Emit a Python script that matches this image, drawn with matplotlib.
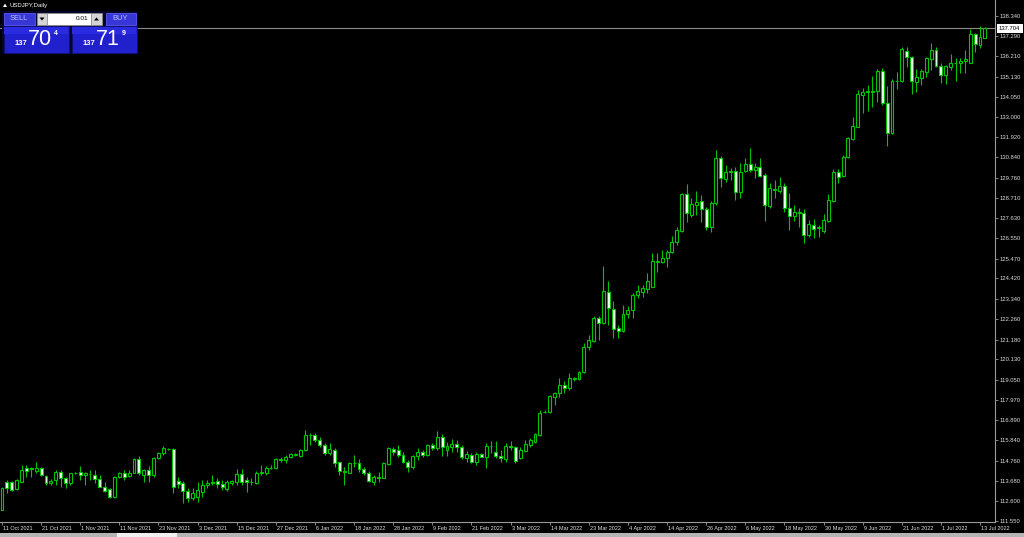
import matplotlib
matplotlib.use("Agg")
import matplotlib.pyplot as plt
from matplotlib.patches import Rectangle, Polygon
import matplotlib.transforms as mtransforms

# ---------------- data (USDJPY, Daily) ----------------
opens = [112.13, 113.60, 113.60, 113.23, 113.64, 114.34, 114.34, 114.22, 114.34, 113.94,
         113.55, 113.72, 114.17, 113.81, 113.55, 114.11, 114.17, 113.99, 114.03, 113.99,
         113.78, 113.37, 113.23, 112.84, 113.90, 114.08, 113.94, 114.11, 114.82, 113.99,
         114.26, 113.99, 114.87, 115.14, 115.39, 115.35, 113.69, 113.55, 113.14, 112.75,
         112.84, 113.11, 113.46, 113.64, 113.69, 113.51, 113.23, 113.55, 113.64, 114.04,
         113.72, 113.64, 113.55, 114.11, 114.08, 114.38, 114.34, 114.82, 114.79, 114.96,
         115.05, 115.00, 115.32, 116.11, 116.11, 115.85, 115.58, 115.14, 115.32, 114.66,
         114.17, 114.11, 114.65, 114.61, 114.31, 114.11, 113.64, 113.87, 113.85, 114.57,
         115.35, 115.32, 115.05, 114.70, 114.40, 115.00, 115.23, 115.05, 115.58, 115.41,
         116.02, 115.32, 115.49, 115.63, 115.49, 114.88, 115.05, 114.70, 115.10, 114.93,
         115.53, 115.23, 115.00, 114.82, 115.53, 115.46, 114.88, 115.28, 115.58, 115.76,
         116.11, 117.33, 117.31, 118.15, 118.32, 118.76, 118.59, 119.07, 119.07, 119.47,
         120.80, 121.12, 122.34, 122.04, 123.72, 122.80, 121.77, 121.63, 122.53, 122.74,
         123.54, 123.72, 123.86, 123.98, 125.31, 125.31, 125.48, 125.80, 126.37, 126.95,
         128.90, 127.78, 128.31, 128.54, 128.10, 127.16, 128.40, 130.79, 129.68, 130.08,
         130.12, 129.02, 130.14, 130.49, 130.17, 130.35, 129.91, 128.28, 129.11, 129.07,
         129.32, 128.17, 127.73, 127.92, 127.87, 126.72, 127.25, 127.13, 126.95, 127.48,
         128.54, 130.08, 129.85, 130.88, 131.82, 132.47, 134.15, 134.31, 134.33, 134.38,
         135.44, 133.74, 132.12, 134.89, 134.89, 136.48, 136.18, 134.86, 135.03, 135.39,
         136.04, 136.54, 135.69, 135.21, 135.62, 135.83, 135.83, 135.95, 135.86, 137.37,
         136.80, 137.19]
highs = [113.34, 113.72, 113.69, 113.76, 114.52, 114.52, 114.40, 114.70, 114.40, 113.99,
         113.76, 114.26, 114.26, 113.90, 114.11, 114.13, 114.47, 114.17, 114.26, 114.26,
         113.99, 113.64, 113.28, 113.94, 114.17, 114.26, 114.26, 114.87, 115.00, 114.29,
         114.47, 114.96, 115.23, 115.53, 115.40, 115.40, 113.90, 113.69, 113.28, 113.28,
         113.64, 113.72, 113.72, 113.99, 113.81, 113.72, 113.72, 113.72, 114.29, 114.29,
         113.90, 113.81, 114.22, 114.52, 114.47, 114.52, 114.87, 114.96, 115.05, 115.17,
         115.14, 115.35, 116.38, 116.20, 116.20, 116.02, 115.67, 115.67, 115.40, 114.70,
         114.43, 114.70, 115.05, 114.82, 114.43, 114.20, 113.99, 114.17, 114.70, 115.49,
         115.49, 115.58, 115.23, 114.79, 115.05, 115.41, 115.32, 115.63, 115.67, 116.34,
         116.15, 115.76, 115.88, 115.85, 115.58, 115.26, 115.14, 115.23, 115.17, 115.71,
         115.81, 115.81, 115.32, 115.67, 115.81, 115.53, 115.49, 115.85, 115.94, 116.24,
         117.44, 117.44, 118.23, 118.41, 119.12, 118.99, 119.42, 119.20, 119.52, 121.01,
         121.42, 122.43, 122.43, 125.08, 124.28, 123.22, 121.95, 123.01, 122.96, 123.66,
         124.07, 124.07, 124.69, 125.75, 125.75, 125.93, 125.93, 126.67, 127.13, 128.97,
         129.43, 128.67, 129.07, 128.84, 128.23, 128.54, 131.23, 130.91, 130.44, 130.26,
         130.35, 130.52, 130.79, 131.32, 130.52, 130.79, 129.99, 129.46, 129.64, 129.78,
         129.50, 128.93, 128.31, 128.14, 128.08, 127.52, 127.55, 127.25, 127.84, 128.90,
         130.21, 130.21, 130.97, 131.94, 132.97, 134.41, 134.50, 134.68, 135.16, 135.51,
         135.56, 134.64, 134.98, 135.39, 136.68, 136.68, 136.22, 135.51, 135.51, 136.18,
         136.93, 136.68, 135.83, 135.74, 136.32, 136.09, 136.09, 136.54, 137.63, 137.46,
         137.81, 137.74]
lows = [112.13, 113.02, 113.16, 113.19, 113.60, 113.90, 113.90, 114.08, 113.94, 113.46,
        113.46, 113.46, 113.37, 113.28, 113.46, 114.04, 113.72, 113.46, 113.72, 113.55,
        113.34, 113.11, 112.75, 112.79, 113.81, 113.72, 113.87, 114.08, 113.99, 113.64,
        113.64, 113.90, 114.82, 115.05, 115.32, 113.02, 113.28, 112.52, 112.58, 112.66,
        112.58, 112.84, 113.28, 113.46, 113.28, 113.19, 113.16, 113.46, 113.46, 113.46,
        113.11, 113.46, 113.51, 113.99, 113.99, 114.29, 114.29, 114.70, 114.64, 114.87,
        115.00, 114.96, 115.28, 115.58, 115.76, 115.49, 115.05, 115.05, 114.40, 113.99,
        113.46, 114.08, 114.43, 114.17, 113.99, 113.64, 113.46, 113.64, 113.81, 114.52,
        115.05, 114.96, 114.61, 114.17, 114.31, 114.79, 114.96, 115.00, 115.32, 115.32,
        115.00, 115.00, 115.23, 115.23, 114.82, 114.70, 114.65, 114.52, 114.93, 114.35,
        115.14, 114.88, 114.70, 114.70, 115.32, 114.61, 114.82, 115.23, 115.49, 115.71,
        116.06, 117.30, 117.26, 117.70, 118.15, 118.32, 118.50, 118.99, 119.03, 119.42,
        120.62, 121.06, 121.15, 122.00, 121.95, 121.28, 121.28, 121.59, 122.30, 122.34,
        123.36, 123.45, 123.63, 123.95, 124.78, 125.25, 125.04, 125.75, 126.19, 126.90,
        127.43, 127.70, 127.78, 127.43, 126.99, 126.90, 128.31, 129.29, 129.55, 129.64,
        128.58, 128.67, 130.08, 130.08, 129.73, 129.82, 127.46, 128.14, 128.67, 128.93,
        127.96, 126.99, 127.48, 127.13, 126.31, 126.63, 126.55, 126.60, 126.81, 127.43,
        128.49, 129.46, 129.78, 130.79, 131.76, 132.43, 133.18, 133.32, 133.53, 133.80,
        133.62, 131.44, 132.08, 134.45, 134.86, 135.62, 134.20, 134.33, 134.68, 135.12,
        135.48, 135.65, 134.77, 134.73, 135.48, 134.91, 135.30, 135.30, 135.83, 136.41,
        136.66, 137.16]
closes = [113.28, 113.28, 113.19, 113.72, 114.26, 114.22, 114.31, 114.38, 113.99, 113.55,
          113.69, 114.17, 113.81, 113.55, 114.08, 114.08, 113.99, 114.08, 114.04, 113.76,
          113.37, 113.14, 112.84, 113.90, 114.08, 113.87, 114.11, 114.82, 114.11, 114.26,
          113.99, 114.87, 115.14, 115.40, 115.35, 113.37, 113.51, 113.14, 112.75, 113.05,
          113.19, 113.46, 113.55, 113.55, 113.51, 113.37, 113.60, 113.69, 114.04, 113.60,
          113.64, 113.62, 114.11, 114.13, 114.38, 114.37, 114.82, 114.81, 114.96, 115.10,
          115.10, 115.32, 116.11, 116.09, 115.85, 115.58, 115.14, 115.35, 114.61, 114.20,
          114.22, 114.65, 114.61, 114.29, 114.08, 113.69, 113.90, 113.85, 114.61, 115.41,
          115.19, 115.05, 114.66, 114.43, 115.00, 115.23, 115.05, 115.58, 115.41, 115.99,
          115.49, 115.53, 115.63, 115.49, 114.93, 115.09, 114.70, 115.10, 114.96, 115.53,
          115.51, 115.00, 114.88, 115.53, 115.46, 114.75, 115.32, 115.63, 115.85, 116.17,
          117.30, 117.35, 118.20, 118.32, 118.76, 118.59, 119.15, 119.12, 119.47, 120.80,
          121.15, 122.34, 122.07, 123.75, 122.83, 121.74, 121.63, 122.53, 122.74, 123.54,
          123.75, 123.89, 124.28, 125.34, 125.34, 125.48, 125.84, 126.37, 126.99, 128.90,
          127.87, 128.35, 128.49, 128.10, 127.16, 128.40, 130.79, 129.73, 130.08, 130.12,
          129.02, 130.08, 130.49, 130.17, 130.35, 129.87, 128.31, 129.23, 129.16, 129.32,
          128.17, 127.73, 127.92, 127.89, 126.72, 127.29, 127.04, 127.11, 127.52, 128.58,
          130.08, 129.82, 130.88, 131.85, 132.50, 134.20, 134.33, 134.36, 134.36, 135.44,
          133.74, 132.12, 134.89, 134.91, 136.59, 136.15, 134.91, 135.12, 135.44, 136.09,
          136.54, 135.69, 135.21, 135.69, 135.83, 135.86, 135.97, 136.04, 137.37, 136.84,
          137.24, 137.70]

price_ticks = [138.340, 137.290, 136.210, 135.130, 134.050, 133.000, 131.920, 130.840,
               129.760, 128.710, 127.630, 126.550, 125.470, 124.420, 123.340, 122.260,
               121.180, 120.130, 119.050, 117.970, 116.890, 115.840, 114.760, 113.680,
               112.600, 111.550]
date_labels = ["11 Oct 2021", "21 Oct 2021", "1 Nov 2021", "11 Nov 2021", "23 Nov 2021",
               "3 Dec 2021", "15 Dec 2021", "27 Dec 2021", "6 Jan 2022", "18 Jan 2022",
               "28 Jan 2022", "9 Feb 2022", "21 Feb 2022", "3 Mar 2022", "14 Mar 2022",
               "23 Mar 2022", "4 Apr 2022", "14 Apr 2022", "26 Apr 2022", "6 May 2022",
               "18 May 2022", "30 May 2022", "9 Jun 2022", "21 Jun 2022", "1 Jul 2022",
               "13 Jul 2022"]
label_step = 8
bid_price = 137.704
symbol_title = "USDJPY,Daily"
lot_size = "0.01"
sell_quote = ("137", "70", "4")
buy_quote = ("137", "71", "9")

# ---------------- figure ----------------
W, H = 1024, 537
fig = plt.figure(figsize=(W / 100, H / 100), dpi=100, facecolor="black")
ax = fig.add_axes([0, 15 / H, 995 / W, 522 / H], facecolor="black")

GREEN = "#00c400"
AXC = "#9a9a9a"
TXT = "#dcdcdc"
FONT = "Liberation Sans"

n = len(opens)
xs = list(range(n))
ax.vlines(xs, lows, highs, color=GREEN, linewidth=0.8, zorder=2)
bottoms = [min(o, c) for o, c in zip(opens, closes)]
heights = [max(abs(c - o), 0.001) for o, c in zip(opens, closes)]
faces = ["black" if c >= o else "#f2fff2" for o, c in zip(opens, closes)]
ax.bar(xs, heights, bottom=bottoms, width=0.6, color=faces, edgecolor=GREEN,
       linewidth=0.8, zorder=3)

ax.axhline(bid_price, color="#8c8c8c", linewidth=0.8, zorder=1)

ax.set_xlim(-0.41, 203.07)
ax.set_ylim(111.50, 139.19)

for s in ["top", "left"]:
    ax.spines[s].set_visible(False)
for s in ["right", "bottom"]:
    ax.spines[s].set_color(AXC)
    ax.spines[s].set_linewidth(0.8)

ax.yaxis.tick_right()
ax.set_yticks(price_ticks)
ax.set_yticklabels([f"{p:.3f}" for p in price_ticks])
ax.tick_params(axis="y", direction="out", length=2.2, width=0.6, color=AXC,
               labelsize=4.2, labelcolor=TXT, pad=0.8)
ax.set_xticks([i * label_step for i in range(len(date_labels))])
ax.set_xticklabels(date_labels)
ax.tick_params(axis="x", direction="out", length=2.2, width=0.6, color=AXC,
               labelsize=4.0, labelcolor=TXT, pad=0.6)
shift = mtransforms.ScaledTranslation(1 / 100, 0, fig.dpi_scale_trans)
for lbl in ax.get_xticklabels():
    lbl.set_ha("left")
    lbl.set_fontfamily(FONT)
    lbl.set_transform(lbl.get_transform() + shift)
for lbl in ax.get_yticklabels():
    lbl.set_fontfamily(FONT)

# bid price box on the price axis
yb = ax.transData.transform((0, bid_price))[1]
yb_top = H - yb


def rect(x0, y0, x1, y1, **kw):
    r = Rectangle((x0 / W, 1 - y1 / H), (x1 - x0) / W, (y1 - y0) / H,
                  transform=fig.transFigure, **kw)
    fig.add_artist(r)
    return r


def ftext(x, y, s, **kw):
    fig.text(x / W, 1 - y / H, s, fontfamily=FONT, **kw)


rect(997, yb_top - 4.5, 1023, yb_top + 4.5, facecolor="white", edgecolor="none", zorder=5)
ftext(998.5, yb_top, f"{bid_price:.3f}", color="black", fontsize=4.2, va="center",
      ha="left", zorder=6)

# bottom strip (tabs)
rect(0, 533, 1024, 537, facecolor="#b4b4b4", edgecolor="none", zorder=5)
rect(117, 533, 177, 537, facecolor="#f0f0f0", edgecolor="none", zorder=6)

# title
tri = Polygon([(3 / W, 1 - 7 / H), (7 / W, 1 - 7 / H), (5 / W, 1 - 3.5 / H)],
              closed=True, transform=fig.transFigure, facecolor="white",
              edgecolor="none", zorder=6)
fig.add_artist(tri)
ftext(9, 5.5, symbol_title, color="white", fontsize=4.3, va="center", ha="left")

# one-click trading panel
rect(2, 11, 137, 54, facecolor="#05052a", edgecolor="none", zorder=5)
rect(3.5, 12.5, 34.5, 25, facecolor="#3737d8", edgecolor="#5a5af0", linewidth=0.6, zorder=6)
ftext(19, 18.8, "SELL", color="#b8c0ff", fontsize=5.4, ha="center", va="center", zorder=7)
rect(105.5, 12.5, 135.5, 25, facecolor="#3737d8", edgecolor="#5a5af0", linewidth=0.6, zorder=6)
ftext(120.5, 18.8, "BUY", color="#b8c0ff", fontsize=5.4, ha="center", va="center", zorder=7)
rect(37, 13, 47, 25, facecolor="#d4d4d4", edgecolor="#909090", linewidth=0.5, zorder=6)
rect(47, 13, 91, 25, facecolor="white", edgecolor="#909090", linewidth=0.5, zorder=6)
rect(91, 13, 102, 25, facecolor="#d4d4d4", edgecolor="#909090", linewidth=0.5, zorder=6)
fig.add_artist(Polygon([(39.5 / W, 1 - 17.5 / H), (44.5 / W, 1 - 17.5 / H), (42 / W, 1 - 20.5 / H)],
                       closed=True, transform=fig.transFigure, facecolor="black",
                       edgecolor="none", zorder=7))
fig.add_artist(Polygon([(94 / W, 1 - 20.5 / H), (99 / W, 1 - 20.5 / H), (96.5 / W, 1 - 17.5 / H)],
                       closed=True, transform=fig.transFigure, facecolor="black",
                       edgecolor="none", zorder=7))
ftext(88, 19, lot_size, color="black", fontsize=4.6, ha="right", va="center", zorder=7)

for (x0, x1, q) in [(3.5, 69, sell_quote), (71.5, 136.5, buy_quote)]:
    rect(x0, 26, x1, 53, facecolor="#2020cc", edgecolor="#101070", linewidth=0.6, zorder=6)
    rect(x0 + 0.8, 26.8, x1 - 0.8, 34, facecolor="#2a2ae0", edgecolor="none", zorder=6)
    ftext(x0 + 11.5, 43.5, q[0], color="white", fontsize=5.4, ha="left", va="center",
          fontweight="bold", zorder=7)
    ftext(x0 + 24, 39.5, q[1], color="white", fontsize=15.5, ha="left", va="center", zorder=7)
    ftext(x0 + 50.5, 33.5, q[2], color="white", fontsize=5.0, ha="left", va="center",
          fontweight="bold", zorder=7)

fig.savefig("out.png", dpi=100, facecolor="black")
